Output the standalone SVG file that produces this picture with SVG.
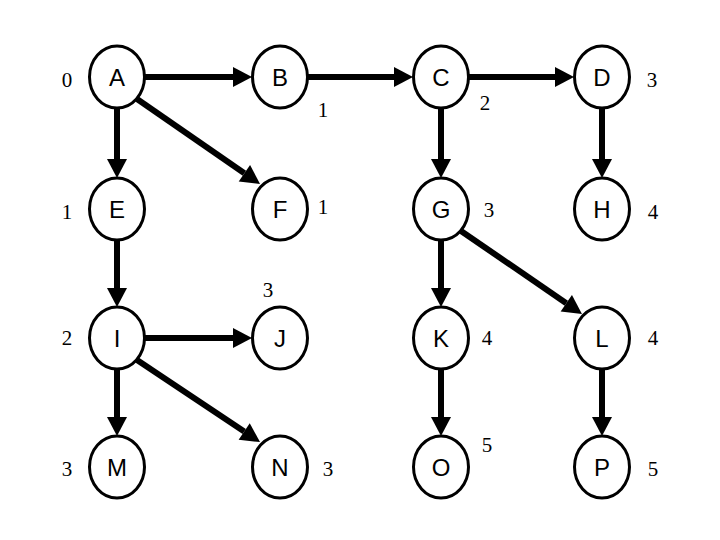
<svg xmlns="http://www.w3.org/2000/svg" width="720" height="540" viewBox="0 0 720 540">
<style>
.node ellipse{fill:#fff;stroke:#000;stroke-width:3}
.node text{font-family:"Liberation Sans",Arial,sans-serif;font-size:24px;text-anchor:middle;fill:#000}
.edge{stroke:#000;stroke-width:6;fill:none;marker-end:url(#ah)}
.num{font-family:"Liberation Serif","Times New Roman",serif;font-size:21px;text-anchor:middle;fill:#000}
</style>
<defs>
<marker id="ah" markerUnits="userSpaceOnUse" markerWidth="21" markerHeight="22" viewBox="0 -11 20 22" refX="0" refY="0" orient="auto">
<path d="M0,-10 L19,0 L0,10 z" fill="#000"/>
</marker>
</defs>
<rect width="720" height="540" fill="#fff"/>
<g id="connectors">
<line class="edge" x1="145" y1="77" x2="233" y2="77"/>
<line class="edge" x1="307" y1="77" x2="394" y2="77"/>
<line class="edge" x1="469" y1="77" x2="555" y2="77"/>
<line class="edge" x1="145" y1="338" x2="233" y2="338"/>
<line class="edge" x1="117" y1="108" x2="117" y2="159"/>
<line class="edge" x1="117" y1="240" x2="117" y2="288"/>
<line class="edge" x1="117" y1="369" x2="117" y2="417"/>
<line class="edge" x1="441" y1="108" x2="441" y2="159"/>
<line class="edge" x1="602" y1="108" x2="602" y2="159"/>
<line class="edge" x1="441" y1="240" x2="441" y2="288"/>
<line class="edge" x1="441" y1="369" x2="441" y2="417"/>
<line class="edge" x1="602" y1="369" x2="602" y2="417"/>
<line class="edge" x1="137" y1="99" x2="244.4" y2="173.2"/>
<line class="edge" x1="461" y1="231" x2="566.3" y2="303.2"/>
<line class="edge" x1="137" y1="360" x2="244.2" y2="431.5"/>
</g>
<g id="A" class="node"><ellipse cx="117" cy="77" rx="27.5" ry="31"/><text x="117" y="86">A</text></g>
<g id="B" class="node"><ellipse cx="280" cy="77" rx="27.5" ry="31"/><text x="280" y="86">B</text></g>
<g id="C" class="node"><ellipse cx="441" cy="77" rx="27.5" ry="31"/><text x="441" y="86">C</text></g>
<g id="D" class="node"><ellipse cx="602" cy="77" rx="27.5" ry="31"/><text x="602" y="86">D</text></g>
<g id="E" class="node"><ellipse cx="117" cy="209" rx="27.5" ry="31"/><text x="117" y="218">E</text></g>
<g id="F" class="node"><ellipse cx="280" cy="209" rx="27.5" ry="31"/><text x="280" y="218">F</text></g>
<g id="G" class="node"><ellipse cx="441" cy="209" rx="27.5" ry="31"/><text x="441" y="218">G</text></g>
<g id="H" class="node"><ellipse cx="602" cy="209" rx="27.5" ry="31"/><text x="602" y="218">H</text></g>
<g id="I" class="node"><ellipse cx="117" cy="338" rx="27.5" ry="31"/><text x="117" y="347">I</text></g>
<g id="J" class="node"><ellipse cx="280" cy="338" rx="27.5" ry="31"/><text x="280" y="347">J</text></g>
<g id="K" class="node"><ellipse cx="441" cy="338" rx="27.5" ry="31"/><text x="441" y="347">K</text></g>
<g id="L" class="node"><ellipse cx="602" cy="338" rx="27.5" ry="31"/><text x="602" y="347">L</text></g>
<g id="M" class="node"><ellipse cx="117" cy="467" rx="27.5" ry="31"/><text x="117" y="476">M</text></g>
<g id="N" class="node"><ellipse cx="280" cy="467" rx="27.5" ry="31"/><text x="280" y="476">N</text></g>
<g id="O" class="node"><ellipse cx="441" cy="467" rx="27.5" ry="31"/><text x="441" y="476">O</text></g>
<g id="P" class="node"><ellipse cx="602" cy="467" rx="27.5" ry="31"/><text x="602" y="476">P</text></g>
<g id="labels">
<text class="num" x="67" y="87">0</text>
<text class="num" x="323" y="117">1</text>
<text class="num" x="67" y="219">1</text>
<text class="num" x="323" y="214">1</text>
<text class="num" x="67" y="345">2</text>
<text class="num" x="268" y="297">3</text>
<text class="num" x="67" y="476">3</text>
<text class="num" x="328" y="476">3</text>
<text class="num" x="485" y="110">2</text>
<text class="num" x="652" y="87">3</text>
<text class="num" x="489" y="217">3</text>
<text class="num" x="653" y="219">4</text>
<text class="num" x="487" y="345">4</text>
<text class="num" x="653" y="345">4</text>
<text class="num" x="487" y="452">5</text>
<text class="num" x="653" y="476">5</text>
</g>
</svg>
